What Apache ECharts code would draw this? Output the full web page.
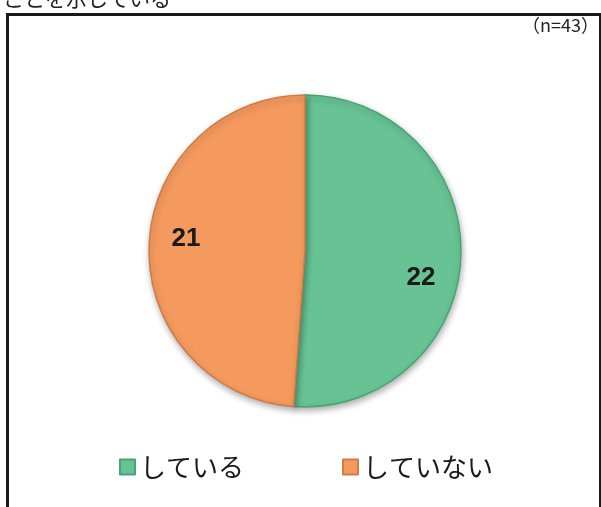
<!DOCTYPE html>
<html><head><meta charset="utf-8">
<script src="https://cdn.jsdelivr.net/npm/echarts@6/dist/echarts.min.js"></script>
<style>html,body{margin:0;padding:0;background:#fff}#c{width:601px;height:507px}</style>
</head><body><div id="c"></div>
<script>
const categories = ['している', 'していない'];
const values = [22, 21];
const sampleNote = '（n=43）';
const captionText = 'ことを示している';
const colors = ['#67C394', '#F59A5E'];
const borders = ['#48A474', '#CF7C46'];

const chart = echarts.init(document.getElementById('c'));
const data = categories.map((n, i) => ({name: n, value: values[i],
  itemStyle: {color: colors[i], borderColor: borders[i]}}));
chart.setOption({
  backgroundColor: '#fff',
  animation: false,
  color: colors,
  graphic: [
    {type: 'rect', left: 5, top: 12, shape: {width: 593, height: 510},
     style: {fill: 'none', stroke: '#1a1a1a', lineWidth: 3}, z: 10},
    {type: 'text', left: 3, top: -12,
     style: {text: captionText, font: '21px "Noto Sans CJK JP"', fill: '#222'}},
    {type: 'text', right: 2, top: 16,
     style: {text: sampleNote, font: '18px "Noto Sans CJK JP"', fill: '#222'}}
  ],
  legend: {
    data: categories, left: 114, top: 449, itemWidth: 15, itemHeight: 15, itemGap: 98,
    icon: 'rect',
    textStyle: {fontSize: 26, fontFamily: '"Noto Sans CJK JP"', color: '#1a1a1a'}
  },
  series: [
    {type: 'pie', center: [305, 251], radius: [0, 156], startAngle: 90, clockwise: true,
     data: data, label: {show: false}, labelLine: {show: false},
     itemStyle: {borderWidth: 1.5, shadowBlur: 6, shadowOffsetY: 3, shadowOffsetX: 1, shadowColor: 'rgba(0,0,0,0.3)'},
     emphasis: {disabled: true}},
    {type: 'pie', center: [305, 251], radius: [80, 156], startAngle: 90, clockwise: true,
     data: categories.map((n, i) => ({name: n, value: values[i]})),
     itemStyle: {color: 'rgba(0,0,0,0)'}, legendHoverLink: false, silent: true,
     label: {show: true, position: 'inside', formatter: '{c}', fontSize: 26, fontWeight: 'bold',
       fontFamily: '"Liberation Sans Narrow", "Liberation Sans", Arial', color: '#1a1a1a'},
     labelLayout: function (p) { return p.dataIndex === 0 ? {dx: -5, dy: 22} : {dx: 2, dy: -8}; },
     emphasis: {disabled: true}}
  ]
});
</script></body></html>
